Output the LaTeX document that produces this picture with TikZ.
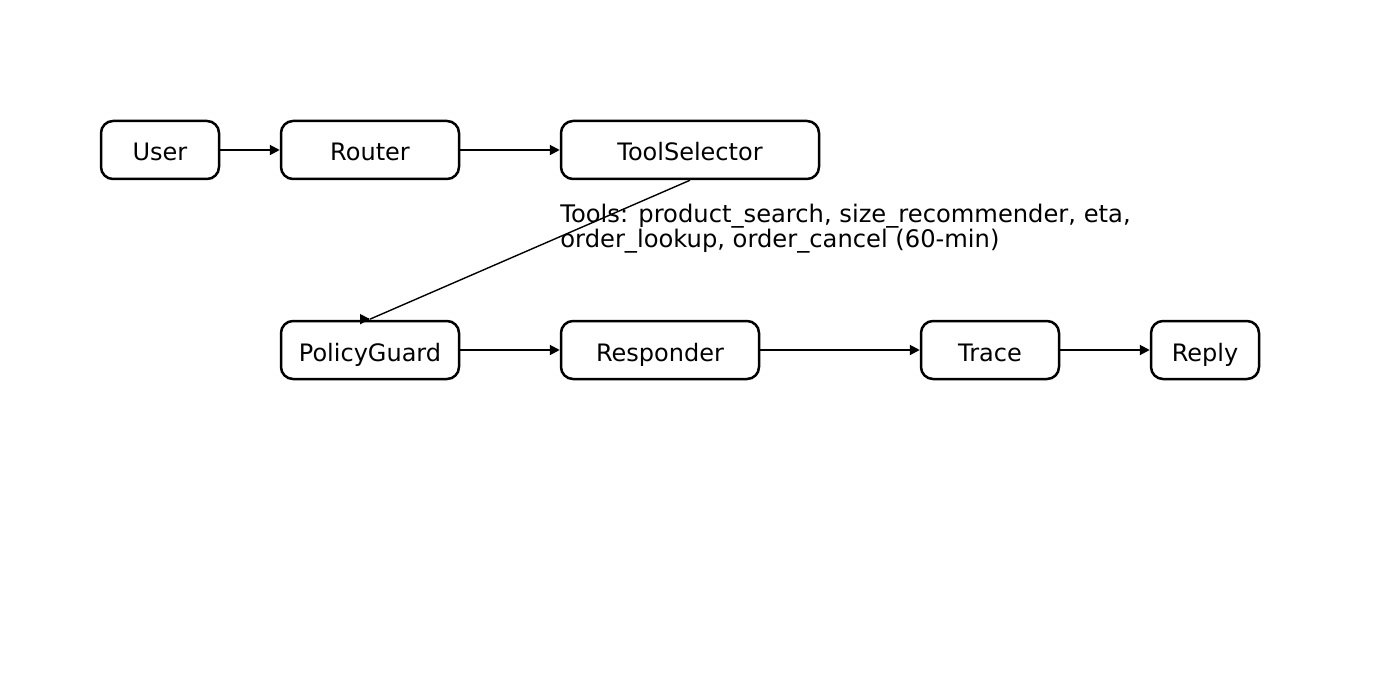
\documentclass[tikz,border=0pt]{standalone}
\usepackage{fontspec}
\setmainfont{DejaVu Sans}
\usetikzlibrary{arrows.meta}
\begin{document}
\begin{tikzpicture}[x=0.5pt,y=-0.5pt,
  box/.style={draw,line width=1.25pt,rounded corners=6pt,inner sep=0pt,text height=11pt,text depth=0pt,font=\fontsize{12}{14}\selectfont},
  arr/.style={line width=1pt,-{Triangle[length=5pt,width=5pt]}},
  thinline/.style={line width=0.7pt}]
\useasboundingbox (0,0) rectangle (1400,700);
\node[box,minimum width=59pt,minimum height=29pt] (User) at (160,150) {User};
\node[box,minimum width=89pt,minimum height=29pt] (Router) at (370,150) {Router};
\node[box,minimum width=129pt,minimum height=29pt] (ToolSelector) at (690,150) {ToolSelector};
\node[box,minimum width=89pt,minimum height=29pt] (PolicyGuard) at (370,350) {PolicyGuard};
\node[box,minimum width=99pt,minimum height=29pt] (Responder) at (660,350) {Responder};
\node[box,minimum width=69pt,minimum height=29pt] (Trace) at (990,350) {Trace};
\node[box,minimum width=54pt,minimum height=29pt] (Reply) at (1205,350) {Reply};
\node[anchor=north west,inner sep=0pt,align=left,font=\fontsize{12.1}{12.5}\selectfont] (lbl) at (560,204) {Tools: product\_search, size\_recommender, eta,\\order\_lookup, order\_cancel (60-min)};
\coordinate (pgtop) at ([yshift=0.3pt]PolicyGuard.north);
\draw[arr] (User) -- (Router);
\draw[arr] (Router) -- (ToolSelector);
\draw[thinline] (ToolSelector.south) -- (pgtop);
\draw[arr,shorten <=0pt] ([xshift=-0.5pt]pgtop) -- (pgtop);
\draw[arr] (PolicyGuard) -- (Responder);
\draw[arr] (Responder) -- (Trace);
\draw[arr] (Trace) -- (Reply);
\end{tikzpicture}
\end{document}
